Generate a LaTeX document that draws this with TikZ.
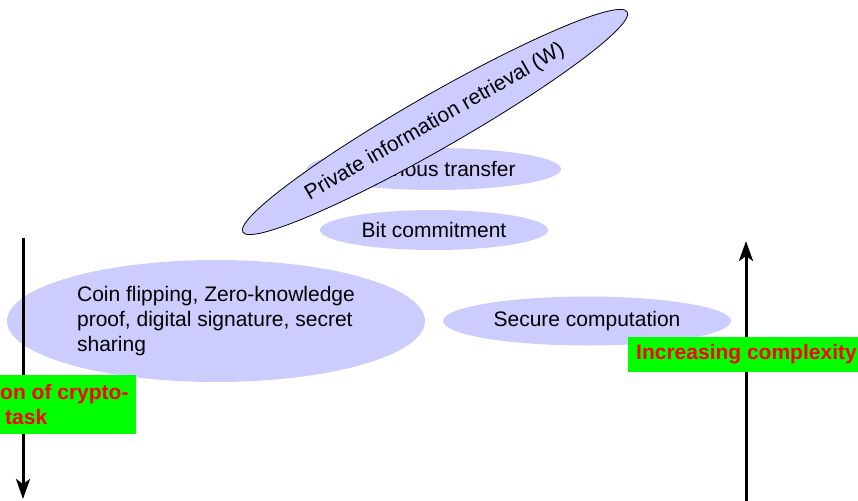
\documentclass[tikz,border=0pt]{standalone}
\usepackage{fontspec}
\setmainfont{Liberation Sans}
\usetikzlibrary{shapes.geometric,arrows.meta}
\definecolor{lav}{RGB}{204,204,255}
\definecolor{boxgreen}{RGB}{0,255,0}
\definecolor{boxred}{RGB}{255,0,0}
\tikzset{
  blob/.style={ellipse, fill=lav, inner sep=0pt, font=\fontsize{21}{25}\selectfont},
  tag/.style={rectangle, fill=boxgreen, text=boxred, inner ysep=0pt, inner xsep=7pt,
              font=\fontsize{21}{25}\selectfont\bfseries},
  axis/.style={line width=3pt, -{Stealth[length=20pt,width=14pt,inset=5pt]}}
}
\begin{document}
\begin{tikzpicture}[x=1pt,y=-1pt]
\useasboundingbox (0,0) rectangle (858,500);
\clip (0,0) rectangle (858,500);

% task families
\node[blob, minimum width=418pt, minimum height=122pt, align=left] (coin) at (216,321)
  {Coin flipping, Zero-knowledge\\proof, digital signature, secret\\sharing};
\node[blob, minimum width=288pt, minimum height=49pt] (secure) at (587,321) {Secure computation};
\node[blob, minimum width=228pt, minimum height=40pt] (bit) at (434,230) {Bit commitment};
\node[blob, minimum width=254pt, minimum height=42pt] (ot) at (434,169) {Oblivious transfer};
\node[blob, draw=black, line width=0.8pt, rotate=29.8, minimum width=443pt, minimum height=54pt]
  (pir) at (435,122) {Private information retrieval (W)};

% axes
\coordinate (ltop) at (23,238);
\coordinate (lbot) at (23,499);
\coordinate (rbot) at (746,505);
\coordinate (rtop) at (746,241);
\draw[axis] (ltop) -- (lbot);
\draw[axis] (rbot) -- (rtop);

% axis labels
\node[tag, anchor=north west, align=left, minimum height=59pt] (lefttag) at (-7,375)
  {on of crypto-\\\hspace*{5pt}task};
\node[tag, anchor=west, inner xsep=8pt, minimum height=35pt] (righttag) at (628,354)
  {Increasing complexity};
\end{tikzpicture}
\end{document}
